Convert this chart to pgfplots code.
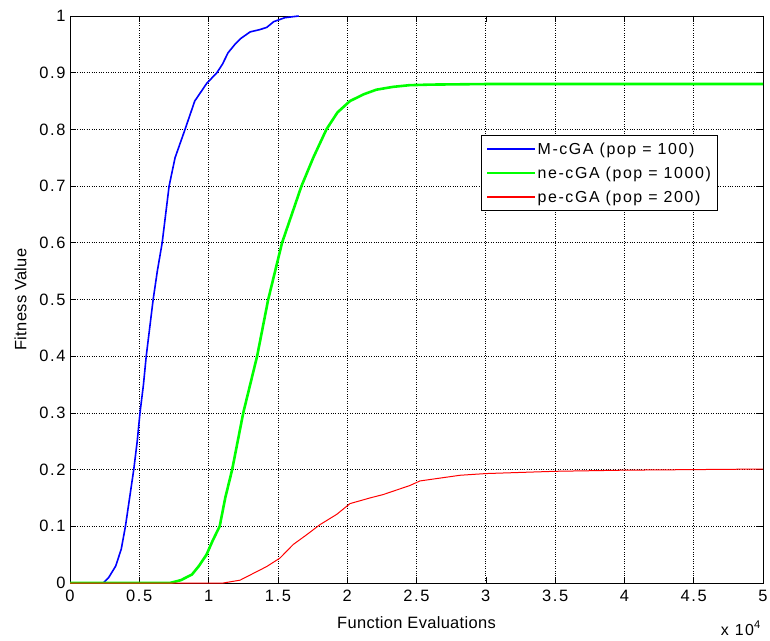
\documentclass[border=0pt]{standalone}
\usepackage{fontspec}
\setmainfont{Liberation Sans}
\newfontfamily\tickfont[LetterSpace=10]{Liberation Sans}
\newfontfamily\legfont[LetterSpace=10]{Liberation Sans}
\newfontfamily\labfont[LetterSpace=2]{Liberation Sans}
\usepackage{pgfplots}
\pgfplotsset{compat=1.18}
\begin{document}
\begin{tikzpicture}
\useasboundingbox (-70bp,-58bp) rectangle (700bp,583bp);
\begin{axis}[
  name=main,
  at={(0,0)}, anchor=south west,
  scale only axis, width=693bp, height=567bp,
  clip mode=individual,
  xmin=0, xmax=5, ymin=0, ymax=1,
  xtick={0,0.5,1,1.5,2,2.5,3,3.5,4,4.5,5},
  ytick={0,0.1,0.2,0.3,0.4,0.5,0.6,0.7,0.8,0.9,1},
  xticklabels={0,0.5,1,1.5,2,2.5,3,3.5,4,4.5,5},
  yticklabels={0,0.1,0.2,0.3,0.4,0.5,0.6,0.7,0.8,0.9,1},
  tick align=inside, xtick pos=both, ytick pos=both,
  major tick length=6bp,
  grid=major, grid style={dotted, black, line width=0.7bp},
  axis line style={black, line width=0.8bp},
  tick style={black, line width=0.6bp},
  tick label style={font=\tickfont\fontsize{16.5}{18}\selectfont},
  xticklabel style={yshift=-4bp},
  yticklabel style={xshift=-1bp},
  label style={font=\labfont\fontsize{16.5}{18}\selectfont},
  xlabel={Function Evaluations},
  ylabel={Fitness Value},
  xlabel style={yshift=-8bp},
  ylabel style={yshift=6bp},
  legend style={at={(0.593,0.79)}, anchor=north west, draw=black, line width=0.8bp,
    font=\legfont\fontsize{16}{18}\selectfont, cells={anchor=west}, row sep=7bp,
    inner xsep=5bp, inner ysep=5bp},
  legend image code/.code={\draw[#1, line width=1.3bp] (0bp,0bp) -- (48bp,0bp);},
]
\addplot[blue, line width=1.6bp] coordinates {
(0,0) (0.24,0) (0.28,0.01) (0.33,0.03) (0.37,0.06) (0.40,0.10) (0.43,0.15) (0.46,0.20)
(0.485,0.25) (0.505,0.30) (0.53,0.35) (0.55,0.40) (0.575,0.45) (0.60,0.50) (0.63,0.55)
(0.665,0.60) (0.69,0.65) (0.715,0.70) (0.758,0.75) (0.83,0.80) (0.90,0.85) (0.986,0.881)
(1.06,0.90) (1.10,0.915) (1.14,0.935) (1.19,0.95) (1.23,0.96) (1.30,0.972) (1.37,0.976)
(1.42,0.98) (1.47,0.99) (1.55,0.997) (1.65,1.0)
};
\addlegendentry{M-cGA (pop = 100)}
\addplot[green, line width=2.6bp] coordinates {
(0,0) (0.72,0) (0.80,0.005) (0.88,0.015) (0.93,0.03) (0.985,0.05) (1.03,0.075) (1.08,0.10)
(1.12,0.15) (1.17,0.20) (1.21,0.25) (1.25,0.30) (1.30,0.35) (1.35,0.40) (1.39,0.45)
(1.43,0.50) (1.48,0.55) (1.53,0.60) (1.60,0.65) (1.67,0.70) (1.755,0.75) (1.85,0.80)
(1.93,0.83) (2.02,0.85) (2.12,0.862) (2.21,0.87) (2.33,0.875) (2.45,0.878) (2.6,0.879)
(3,0.88) (5,0.88)
};
\addlegendentry{ne-cGA (pop = 1000)}
\addplot[red, line width=1bp] coordinates {
(0,0) (1.106,0) (1.227,0.005) (1.323,0.017) (1.419,0.029) (1.515,0.044) (1.611,0.068)
(1.707,0.085) (1.804,0.103) (1.924,0.121) (2.020,0.140) (2.164,0.150) (2.260,0.156)
(2.453,0.172) (2.525,0.180) (2.814,0.190) (3.0,0.193) (3.5,0.197) (4.0,0.199)
(4.5,0.200) (5.0,0.201)
};
\addlegendentry{pe-cGA (pop = 200)}
\end{axis}
\node[anchor=base east, font=\tickfont\fontsize{16}{18}\selectfont, inner sep=0pt] at ([xshift=-2bp, yshift=-52bp]main.south east) {x 10\textsuperscript{4}};
\end{tikzpicture}
\end{document}
